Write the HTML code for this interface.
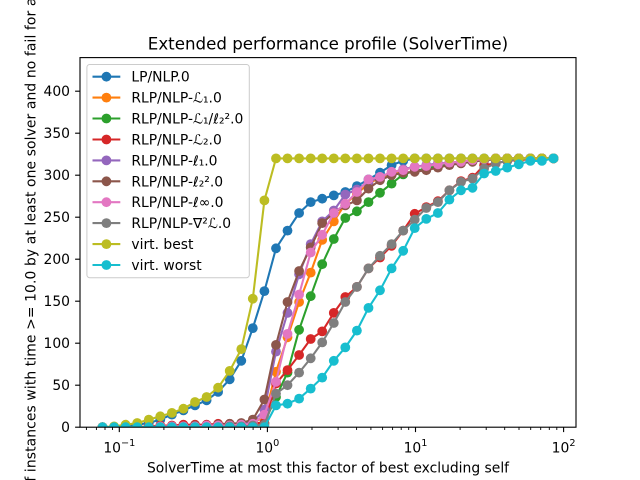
<!DOCTYPE html>
<html><head><meta charset="utf-8"><style>
html,body{margin:0;padding:0;background:#fff;overflow:hidden;width:640px;height:480px}
svg{display:block}
text{font-family:"DejaVu Sans","Liberation Sans",sans-serif;fill:#000}
</style></head><body>
<svg width="640" height="480" viewBox="0 0 640 480" xmlns="http://www.w3.org/2000/svg">
<defs>
<clipPath id="ax"><rect x="80" y="57.6" width="496" height="369.6"/></clipPath>
<clipPath id="fr"><rect x="0" y="0" width="640" height="480"/></clipPath>
<marker id="m0" markerWidth="12" markerHeight="12" refX="6" refY="6" markerUnits="userSpaceOnUse"><circle cx="6" cy="6" r="4.9" fill="#1f77b4"/></marker>
<marker id="m1" markerWidth="12" markerHeight="12" refX="6" refY="6" markerUnits="userSpaceOnUse"><circle cx="6" cy="6" r="4.9" fill="#ff7f0e"/></marker>
<marker id="m2" markerWidth="12" markerHeight="12" refX="6" refY="6" markerUnits="userSpaceOnUse"><circle cx="6" cy="6" r="4.9" fill="#2ca02c"/></marker>
<marker id="m3" markerWidth="12" markerHeight="12" refX="6" refY="6" markerUnits="userSpaceOnUse"><circle cx="6" cy="6" r="4.9" fill="#d62728"/></marker>
<marker id="m4" markerWidth="12" markerHeight="12" refX="6" refY="6" markerUnits="userSpaceOnUse"><circle cx="6" cy="6" r="4.9" fill="#9467bd"/></marker>
<marker id="m5" markerWidth="12" markerHeight="12" refX="6" refY="6" markerUnits="userSpaceOnUse"><circle cx="6" cy="6" r="4.9" fill="#8c564b"/></marker>
<marker id="m6" markerWidth="12" markerHeight="12" refX="6" refY="6" markerUnits="userSpaceOnUse"><circle cx="6" cy="6" r="4.9" fill="#e377c2"/></marker>
<marker id="m7" markerWidth="12" markerHeight="12" refX="6" refY="6" markerUnits="userSpaceOnUse"><circle cx="6" cy="6" r="4.9" fill="#7f7f7f"/></marker>
<marker id="m8" markerWidth="12" markerHeight="12" refX="6" refY="6" markerUnits="userSpaceOnUse"><circle cx="6" cy="6" r="4.9" fill="#bcbd22"/></marker>
<marker id="m9" markerWidth="12" markerHeight="12" refX="6" refY="6" markerUnits="userSpaceOnUse"><circle cx="6" cy="6" r="4.9" fill="#17becf"/></marker>
</defs>

<text x="328" y="49.5" font-size="16.67" text-anchor="middle">Extended performance profile (SolverTime)</text>

<g clip-path="url(#ax)" fill="none" stroke-width="2.08" stroke-linejoin="round">
<polyline stroke="#1f77b4" marker-start="url(#m0)" marker-mid="url(#m0)" marker-end="url(#m0)" points="102.5,427.2 114.1,427.2 125.6,426.4 137.2,424.7 148.8,423.0 160.3,419.6 171.9,414.6 183.4,410.4 195.0,405.4 206.6,400.3 218.1,391.9 229.7,379.3 241.3,360.8 252.8,328.1 264.4,291.1 276.0,248.3 287.5,230.6 299.1,213.0 310.7,202.1 322.2,198.7 333.8,195.4 345.3,192.0 356.9,186.1 368.5,179.4 380.0,172.7 391.6,165.1 403.2,160.9 414.7,158.4 426.3,158.4 437.9,158.4 449.4,158.4 461.0,158.4 472.5,158.4 484.1,158.4 495.7,158.4 507.2,158.4 518.8,158.4 530.4,158.4 541.9,158.4 553.5,158.4"/>
<polyline stroke="#ff7f0e" marker-start="url(#m1)" marker-mid="url(#m1)" marker-end="url(#m1)" points="102.5,427.2 114.1,427.2 125.6,427.2 137.2,427.2 148.8,426.4 160.3,426.4 171.9,426.4 183.4,426.4 195.0,426.4 206.6,426.4 218.1,425.5 229.7,425.5 241.3,424.7 252.8,423.0 264.4,417.1 276.0,371.8 287.5,337.3 299.1,302.0 310.7,272.6 322.2,239.9 333.8,221.4 345.3,203.8 356.9,193.7 368.5,183.6 380.0,177.7 391.6,173.5 403.2,170.2 414.7,166.8 426.3,166.0 437.9,164.3 449.4,162.6 461.0,161.8 472.5,160.1 484.1,159.2 495.7,158.4 507.2,158.4 518.8,158.4 530.4,158.4 541.9,158.4 553.5,158.4"/>
<polyline stroke="#2ca02c" marker-start="url(#m2)" marker-mid="url(#m2)" marker-end="url(#m2)" points="102.5,427.2 114.1,427.2 125.6,427.2 137.2,427.2 148.8,427.2 160.3,427.2 171.9,426.4 183.4,426.4 195.0,426.4 206.6,426.4 218.1,426.4 229.7,426.4 241.3,425.5 252.8,424.7 264.4,423.0 276.0,397.0 287.5,372.6 299.1,329.8 310.7,296.2 322.2,264.2 333.8,239.0 345.3,218.0 356.9,211.3 368.5,202.1 380.0,192.8 391.6,183.6 403.2,174.4 414.7,171.0 426.3,168.5 437.9,166.0 449.4,164.3 461.0,162.6 472.5,160.9 484.1,160.1 495.7,159.2 507.2,158.4 518.8,158.4 530.4,158.4 541.9,158.4 553.5,158.4"/>
<polyline stroke="#d62728" marker-start="url(#m3)" marker-mid="url(#m3)" marker-end="url(#m3)" points="102.5,427.2 114.1,427.2 125.6,427.2 137.2,427.2 148.8,426.4 160.3,425.5 171.9,425.5 183.4,424.7 195.0,424.7 206.6,424.7 218.1,423.8 229.7,423.8 241.3,423.8 252.8,423.0 264.4,423.0 276.0,383.5 287.5,370.1 299.1,355.0 310.7,339.0 322.2,331.4 333.8,312.9 345.3,297.0 356.9,286.9 368.5,268.4 380.0,257.5 391.6,245.8 403.2,230.6 414.7,213.8 426.3,207.1 437.9,201.2 449.4,190.3 461.0,181.1 472.5,177.7 484.1,165.1 495.7,163.4 507.2,160.9 518.8,160.1 530.4,159.2 541.9,158.4 553.5,158.4"/>
<polyline stroke="#9467bd" marker-start="url(#m4)" marker-mid="url(#m4)" marker-end="url(#m4)" points="102.5,427.2 114.1,427.2 125.6,427.2 137.2,427.2 148.8,427.2 160.3,427.2 171.9,426.4 183.4,426.4 195.0,426.4 206.6,425.5 218.1,425.5 229.7,424.7 241.3,423.8 252.8,422.2 264.4,409.6 276.0,351.6 287.5,312.9 299.1,274.3 310.7,244.1 322.2,221.4 333.8,210.5 345.3,194.5 356.9,189.5 368.5,181.9 380.0,176.9 391.6,172.7 403.2,169.3 414.7,166.8 426.3,165.1 437.9,163.4 449.4,162.6 461.0,161.8 472.5,160.1 484.1,159.2 495.7,158.4 507.2,158.4 518.8,158.4 530.4,158.4 541.9,158.4 553.5,158.4"/>
<polyline stroke="#8c564b" marker-start="url(#m5)" marker-mid="url(#m5)" marker-end="url(#m5)" points="102.5,427.2 114.1,427.2 125.6,427.2 137.2,427.2 148.8,427.2 160.3,426.4 171.9,426.4 183.4,426.4 195.0,425.5 206.6,425.5 218.1,424.7 229.7,423.8 241.3,423.0 252.8,419.6 264.4,399.5 276.0,344.9 287.5,302.0 299.1,271.0 310.7,247.4 322.2,223.1 333.8,213.0 345.3,205.4 356.9,200.4 368.5,188.6 380.0,180.2 391.6,175.2 403.2,172.7 414.7,171.8 426.3,170.2 437.9,167.6 449.4,165.1 461.0,163.4 472.5,161.8 484.1,160.1 495.7,159.2 507.2,158.4 518.8,158.4 530.4,158.4 541.9,158.4 553.5,158.4"/>
<polyline stroke="#e377c2" marker-start="url(#m6)" marker-mid="url(#m6)" marker-end="url(#m6)" points="102.5,427.2 114.1,427.2 125.6,427.2 137.2,427.2 148.8,427.2 160.3,426.4 171.9,426.4 183.4,426.4 195.0,426.4 206.6,425.5 218.1,425.5 229.7,425.5 241.3,424.7 252.8,423.8 264.4,414.6 276.0,381.8 287.5,333.9 299.1,294.5 310.7,252.5 322.2,234.8 333.8,213.0 345.3,203.8 356.9,192.0 368.5,179.4 380.0,176.9 391.6,171.8 403.2,170.2 414.7,166.8 426.3,166.0 437.9,164.3 449.4,162.6 461.0,161.8 472.5,160.1 484.1,159.2 495.7,158.4 507.2,158.4 518.8,158.4 530.4,158.4 541.9,158.4 553.5,158.4"/>
<polyline stroke="#7f7f7f" marker-start="url(#m7)" marker-mid="url(#m7)" marker-end="url(#m7)" points="102.5,427.2 114.1,427.2 125.6,427.2 137.2,427.2 148.8,427.2 160.3,427.2 171.9,427.2 183.4,427.2 195.0,427.2 206.6,427.2 218.1,427.2 229.7,426.4 241.3,426.4 252.8,425.5 264.4,424.7 276.0,393.6 287.5,385.2 299.1,372.6 310.7,358.3 322.2,342.4 333.8,323.0 345.3,302.0 356.9,286.9 368.5,268.4 380.0,255.8 391.6,244.1 403.2,230.6 414.7,219.7 426.3,208.0 437.9,202.1 449.4,190.3 461.0,181.9 472.5,178.6 484.1,168.5 495.7,163.4 507.2,160.9 518.8,159.2 530.4,158.4 541.9,158.4 553.5,158.4"/>
<polyline stroke="#bcbd22" marker-start="url(#m8)" marker-mid="url(#m8)" marker-end="url(#m8)" points="102.5,427.2 114.1,426.4 125.6,424.7 137.2,423.0 148.8,419.6 160.3,416.3 171.9,412.9 183.4,408.7 195.0,402.0 206.6,397.0 218.1,387.7 229.7,370.9 241.3,349.1 252.8,298.7 264.4,200.4 276.0,158.4 287.5,158.4 299.1,158.4 310.7,158.4 322.2,158.4 333.8,158.4 345.3,158.4 356.9,158.4 368.5,158.4 380.0,158.4 391.6,158.4 403.2,158.4 414.7,158.4 426.3,158.4 437.9,158.4 449.4,158.4 461.0,158.4 472.5,158.4 484.1,158.4 495.7,158.4 507.2,158.4 518.8,158.4 530.4,158.4 541.9,158.4 553.5,158.4"/>
<polyline stroke="#17becf" marker-start="url(#m9)" marker-mid="url(#m9)" marker-end="url(#m9)" points="102.5,427.2 114.1,427.2 125.6,427.2 137.2,427.2 148.8,427.2 160.3,427.2 171.9,427.2 183.4,427.2 195.0,427.2 206.6,427.2 218.1,427.2 229.7,427.2 241.3,427.2 252.8,427.2 264.4,427.2 276.0,405.4 287.5,403.7 299.1,398.6 310.7,388.6 322.2,377.6 333.8,360.8 345.3,347.4 356.9,330.6 368.5,307.9 380.0,290.3 391.6,268.4 403.2,250.8 414.7,228.1 426.3,218.9 437.9,213.0 449.4,199.6 461.0,190.3 472.5,187.8 484.1,173.5 495.7,171.0 507.2,167.6 518.8,164.3 530.4,160.9 541.9,160.9 553.5,158.4"/>
</g>

<rect x="80" y="57.6" width="496" height="369.6" fill="none" stroke="#000" stroke-width="1.11"/>

<g stroke="#000" stroke-width="1.11">
<line x1="75.1" y1="427.2" x2="80" y2="427.2"/>
<line x1="75.1" y1="385.2" x2="80" y2="385.2"/>
<line x1="75.1" y1="343.2" x2="80" y2="343.2"/>
<line x1="75.1" y1="301.2" x2="80" y2="301.2"/>
<line x1="75.1" y1="259.2" x2="80" y2="259.2"/>
<line x1="75.1" y1="217.2" x2="80" y2="217.2"/>
<line x1="75.1" y1="175.2" x2="80" y2="175.2"/>
<line x1="75.1" y1="133.2" x2="80" y2="133.2"/>
<line x1="75.1" y1="91.2" x2="80" y2="91.2"/>
</g>
<g font-size="13.89" text-anchor="end">
<text x="70" y="432.2">0</text>
<text x="70" y="390.2">50</text>
<text x="70" y="348.2">100</text>
<text x="70" y="306.2">150</text>
<text x="70" y="264.2">200</text>
<text x="70" y="222.2">250</text>
<text x="70" y="180.2">300</text>
<text x="70" y="138.2">350</text>
<text x="70" y="96.2">400</text>
</g>

<g stroke="#000" stroke-width="1.11">
<line x1="119.3" y1="427.2" x2="119.3" y2="432.1"/>
<line x1="267.4" y1="427.2" x2="267.4" y2="432.1"/>
<line x1="415.5" y1="427.2" x2="415.5" y2="432.1"/>
<line x1="563.6" y1="427.2" x2="563.6" y2="432.1"/>
</g>
<g stroke="#000" stroke-width="0.9">
<line x1="86.4" y1="427.2" x2="86.4" y2="430"/>
<line x1="96.4" y1="427.2" x2="96.4" y2="430"/>
<line x1="105.0" y1="427.2" x2="105.0" y2="430"/>
<line x1="112.5" y1="427.2" x2="112.5" y2="430"/>
<line x1="163.9" y1="427.2" x2="163.9" y2="430"/>
<line x1="190.0" y1="427.2" x2="190.0" y2="430"/>
<line x1="208.5" y1="427.2" x2="208.5" y2="430"/>
<line x1="222.8" y1="427.2" x2="222.8" y2="430"/>
<line x1="234.5" y1="427.2" x2="234.5" y2="430"/>
<line x1="244.5" y1="427.2" x2="244.5" y2="430"/>
<line x1="253.1" y1="427.2" x2="253.1" y2="430"/>
<line x1="260.6" y1="427.2" x2="260.6" y2="430"/>
<line x1="312.0" y1="427.2" x2="312.0" y2="430"/>
<line x1="338.1" y1="427.2" x2="338.1" y2="430"/>
<line x1="356.6" y1="427.2" x2="356.6" y2="430"/>
<line x1="370.9" y1="427.2" x2="370.9" y2="430"/>
<line x1="382.6" y1="427.2" x2="382.6" y2="430"/>
<line x1="392.6" y1="427.2" x2="392.6" y2="430"/>
<line x1="401.2" y1="427.2" x2="401.2" y2="430"/>
<line x1="408.7" y1="427.2" x2="408.7" y2="430"/>
<line x1="460.1" y1="427.2" x2="460.1" y2="430"/>
<line x1="486.2" y1="427.2" x2="486.2" y2="430"/>
<line x1="504.7" y1="427.2" x2="504.7" y2="430"/>
<line x1="519.0" y1="427.2" x2="519.0" y2="430"/>
<line x1="530.7" y1="427.2" x2="530.7" y2="430"/>
<line x1="540.7" y1="427.2" x2="540.7" y2="430"/>
<line x1="549.3" y1="427.2" x2="549.3" y2="430"/>
<line x1="556.8" y1="427.2" x2="556.8" y2="430"/>
</g>
<g font-size="13.89" text-anchor="middle">
<text x="119.3" y="452.3">10<tspan dy="-6.5" font-size="9.7">−1</tspan></text>
<text x="267.4" y="452.3">10<tspan dy="-6.5" font-size="9.7">0</tspan></text>
<text x="415.5" y="452.3">10<tspan dy="-6.5" font-size="9.7">1</tspan></text>
<text x="563.6" y="452.3">10<tspan dy="-6.5" font-size="9.7">2</tspan></text>
</g>

<text x="328" y="472.5" font-size="13.89" text-anchor="middle">SolverTime at most this factor of best excluding self</text>
<g clip-path="url(#fr)">
<text transform="translate(35.7,243.4) rotate(-90)" font-size="13.89" letter-spacing="0.11" text-anchor="middle"># of instances with time &gt;= 10.0 by at least one solver and no fail for any</text>
</g>

<rect x="86.9" y="64.5" width="162.4" height="213.2" rx="2.8" ry="2.8" fill="#fff" fill-opacity="0.8" stroke="#cccccc" stroke-width="1"/>
<g stroke-width="2.08">
<line x1="92.5" y1="76.7" x2="120.3" y2="76.7" stroke="#1f77b4"/>
<line x1="92.5" y1="97.6" x2="120.3" y2="97.6" stroke="#ff7f0e"/>
<line x1="92.5" y1="118.5" x2="120.3" y2="118.5" stroke="#2ca02c"/>
<line x1="92.5" y1="139.5" x2="120.3" y2="139.5" stroke="#d62728"/>
<line x1="92.5" y1="160.4" x2="120.3" y2="160.4" stroke="#9467bd"/>
<line x1="92.5" y1="181.3" x2="120.3" y2="181.3" stroke="#8c564b"/>
<line x1="92.5" y1="202.2" x2="120.3" y2="202.2" stroke="#e377c2"/>
<line x1="92.5" y1="223.1" x2="120.3" y2="223.1" stroke="#7f7f7f"/>
<line x1="92.5" y1="244.1" x2="120.3" y2="244.1" stroke="#bcbd22"/>
<line x1="92.5" y1="265.0" x2="120.3" y2="265.0" stroke="#17becf"/>
</g>
<g>
<circle cx="106.4" cy="76.7" r="4.9" fill="#1f77b4"/>
<circle cx="106.4" cy="97.6" r="4.9" fill="#ff7f0e"/>
<circle cx="106.4" cy="118.5" r="4.9" fill="#2ca02c"/>
<circle cx="106.4" cy="139.5" r="4.9" fill="#d62728"/>
<circle cx="106.4" cy="160.4" r="4.9" fill="#9467bd"/>
<circle cx="106.4" cy="181.3" r="4.9" fill="#8c564b"/>
<circle cx="106.4" cy="202.2" r="4.9" fill="#e377c2"/>
<circle cx="106.4" cy="223.1" r="4.9" fill="#7f7f7f"/>
<circle cx="106.4" cy="244.1" r="4.9" fill="#bcbd22"/>
<circle cx="106.4" cy="265.0" r="4.9" fill="#17becf"/>
</g>
<g font-size="13.89">
<text x="131.4" y="81.7">LP/NLP.0</text>
<text x="131.4" y="102.6">RLP/NLP-ℒ₁.0</text>
<text x="131.4" y="123.5">RLP/NLP-ℒ₁/ℓ₂².0</text>
<text x="131.4" y="144.5">RLP/NLP-ℒ₂.0</text>
<text x="131.4" y="165.4">RLP/NLP-ℓ₁.0</text>
<text x="131.4" y="186.3">RLP/NLP-ℓ₂².0</text>
<text x="131.4" y="207.2">RLP/NLP-ℓ∞.0</text>
<text x="131.4" y="228.1">RLP/NLP-∇²ℒ.0</text>
<text x="131.4" y="249.1">virt. best</text>
<text x="131.4" y="270.0">virt. worst</text>
</g>
</svg>
</body></html>
